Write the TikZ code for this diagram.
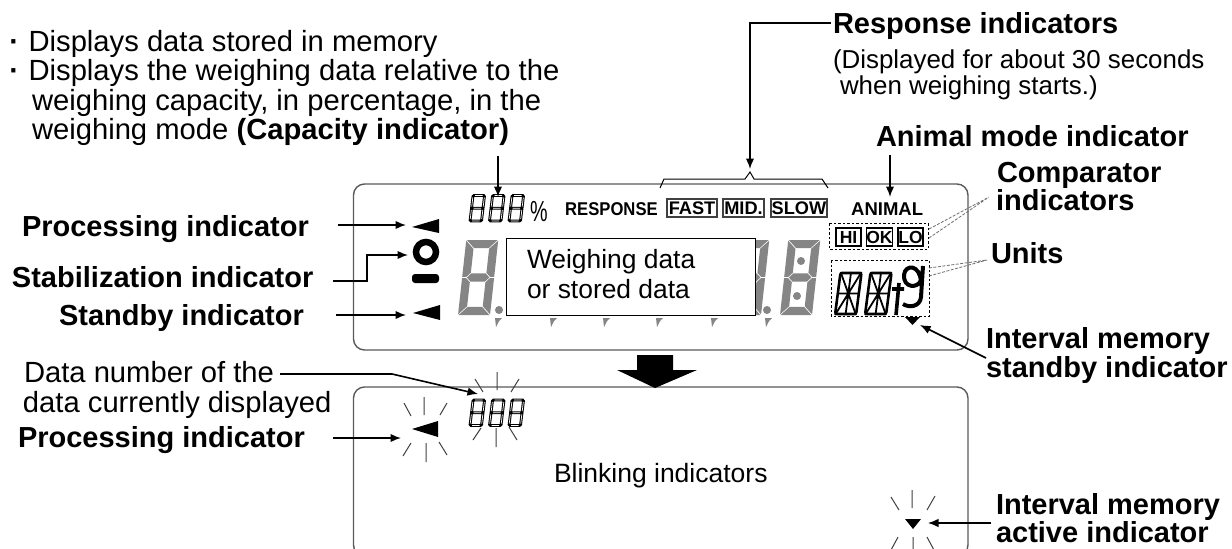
\documentclass[tikz,border=0pt]{standalone}
\usepackage{fontspec}
\setmainfont{Liberation Sans}
\usetikzlibrary{arrows.meta}
\definecolor{lcdgrey}{HTML}{858585}
\definecolor{panelline}{HTML}{5A5A5A}
\definecolor{leaddash}{HTML}{707070}
\newcommand{\lcdseg}[4]{%
 % w h t style : origin at bottom-left, up is positive
 \pgfmathsetmacro{\wW}{#1}\pgfmathsetmacro{\hH}{#2}\pgfmathsetmacro{\tT}{#3}%
 \pgfmathsetmacro{\mM}{\hH/2}\pgfmathsetmacro{\gG}{\tT*0.08}%
 \path[#4] (\gG,\hH) -- (\wW-\gG,\hH) -- (\wW-\tT-\gG,\hH-\tT) -- (\tT+\gG,\hH-\tT) -- cycle;
 \path[#4] (\gG,0) -- (\wW-\gG,0) -- (\wW-\tT-\gG,\tT) -- (\tT+\gG,\tT) -- cycle;
 \path[#4] (\tT/2+\gG,\mM) -- (\tT+\gG,\mM+\tT/2) -- (\wW-\tT-\gG,\mM+\tT/2) -- (\wW-\tT/2-\gG,\mM) -- (\wW-\tT-\gG,\mM-\tT/2) -- (\tT+\gG,\mM-\tT/2) -- cycle;
 \path[#4] (0,\hH-\gG) -- (\tT,\hH-\tT-\gG) -- (\tT,\mM+\tT/2+\gG) -- (\tT/2,\mM+\gG) -- (0,\mM+\gG) -- cycle;
 \path[#4] (0,\gG) -- (\tT,\tT+\gG) -- (\tT,\mM-\tT/2-\gG) -- (\tT/2,\mM-\gG) -- (0,\mM-\gG) -- cycle;
 \path[#4] (\wW,\hH-\gG) -- (\wW-\tT,\hH-\tT-\gG) -- (\wW-\tT,\mM+\tT/2+\gG) -- (\wW-\tT/2,\mM+\gG) -- (\wW,\mM+\gG) -- cycle;
 \path[#4] (\wW,\gG) -- (\wW-\tT,\tT+\gG) -- (\wW-\tT,\mM-\tT/2-\gG) -- (\wW-\tT/2,\mM-\gG) -- (\wW,\mM-\gG) -- cycle;
}
\newcommand{\bigdigit}[2]{\begin{scope}[shift={(#1,#2)},y=1pt,xslant=.11]\lcdseg{32}{75}{8.2}{fill=lcdgrey}\end{scope}}
\newcommand{\smalldigit}[2]{\begin{scope}[shift={(#1,#2)},y=1pt,xslant=.12]
 \draw[line width=2.8pt,rounded corners=1pt] (0,0) rectangle (11.5,25.5) (0,12.75) -- (11.5,12.75);
 \draw[white,line width=.7pt] (0,2) -- (0,11) (0,14.5) -- (0,23.5) (11.5,2) -- (11.5,11) (11.5,14.5) -- (11.5,23.5) (2,0) -- (9.5,0) (2,12.75) -- (9.5,12.75) (2,25.5) -- (9.5,25.5);
\end{scope}}
\newcommand{\alphadigit}[1]{\begin{scope}[shift={(#1,315)},y=1pt,xslant=.13]
 \draw[line width=2.6pt,line join=round,rounded corners=1.5pt] (0,1) rectangle (21,42);
 \draw[line width=1.8pt] (10.5,0) -- (10.5,43) (0,21.5) -- (21,21.5) (0,0) -- (21,43) (0,43) -- (21,0);
\end{scope}}
\newcommand{\commatick}[1]{\fill[lcdgrey] (#1-2,318) -- (#1+5,318) -- (#1+2,321) -- (#1-1,327) -- cycle;}
\tikzset{
 txt/.style={anchor=base west,inner sep=0pt,outer sep=0pt,font=\fontsize{29.2}{30}\selectfont},
 btxt/.style={anchor=base west,inner sep=0pt,outer sep=0pt,font=\fontsize{29}{30}\selectfont\bfseries},
 panel/.style={draw=panelline,line width=1.4pt,rounded corners=11pt},
 lead/.style={line width=1.6pt,-{Latex[length=10.5pt,width=8.5pt]}},
 dashbox/.style={draw=black,line width=.9pt,dash pattern=on 2.5pt off 2pt},
 greylead/.style={draw=leaddash,line width=.8pt,dash pattern=on 3pt off 1.5pt},
 ray/.style={draw=black!75,line width=1pt},
 lcdbox/.style={draw=black!75,line width=1.1pt,inner sep=0pt,minimum height=18pt,font=\fontsize{18.2}{19}\selectfont\bfseries,fill=white},
 cmpbox/.style={draw=black,line width=1.3pt,inner sep=0pt,minimum height=18pt,minimum width=25pt,font=\fontsize{17.5}{18}\selectfont\bfseries},
 lcdtxt/.style={anchor=base west,inner sep=0pt,font=\fontsize{18.5}{19}\selectfont\bfseries},
}
\begin{document}
\begin{tikzpicture}[x=1pt,y=-1pt]
\useasboundingbox[fill=white] (0,0) rectangle (1232,549);
% panels
\draw[panel] (353.5,184) rectangle (968,350);
\draw[panel] (353.5,387) rectangle (968,556);
% large grey digits
\foreach \dx in {458,513,567,621,675,729,780}{\bigdigit{\dx}{315}}
\foreach \dx in {497,552,605,658,713,767}{\commatick{\dx}}
\foreach \cx/\cy in {499/310,767/310,801/261,797/296}{\fill[lcdgrey] (\cx,\cy) circle (4);}
% data box
\node[draw=black,line width=1pt,fill=white,minimum width=249pt,minimum height=77pt,inner sep=0pt] (databox) at (630.5,276.5) {};
\node[txt,font=\fontsize{26.4}{27}\selectfont] (dataA) at (527,268) {Weighing data};
\node[txt,font=\fontsize{26.4}{27}\selectfont] (dataB) at (527,298) {or stored data};
% capacity digits
\foreach \dx in {470,489.5,509}{\smalldigit{\dx}{221}}
\node[lcdtxt,font=\fontsize{29}{29}\selectfont] (pct) at (530,221) {\scalebox{.68}[1]{\%}};
\node[lcdtxt] (resp) at (565,215) {\scalebox{.9}[1]{RESPONSE}};
\node[lcdbox,minimum width=50pt] (fast) at (692,208) {FAST};
\node[lcdbox,minimum width=41pt] (mid) at (743.5,208) {MID.};
\node[lcdbox,minimum width=56pt] (slow) at (799,208) {SLOW};
\node[lcdtxt] (animal) at (851,215) {ANIMAL};
% left symbols
\fill (412,227) -- (439,219) -- (439,233) -- cycle;
\fill (413,313) -- (440,305) -- (440,320) -- cycle;
\draw[line width=6.5pt] (426,252) circle (10);
\fill[rounded corners=3pt] (412,274) rectangle (439,283);
% comparator
\draw[dashbox] (829,223) rectangle (928,249);
\node[cmpbox] (hi) at (848.5,237) {HI};
\node[cmpbox] (ok) at (879.5,237) {OK};
\node[cmpbox] (lo) at (910.5,237) {LO};
% units
\draw[dashbox] (831,260) rectangle (929,316);
\alphadigit{835}
\alphadigit{865}
\draw[line width=3.6pt] (899,283) -- (896,315) (892,289) -- (904,289);
\draw[line width=4pt,line join=round] (921,282) .. controls (920,264) and (905,264) .. (904,275) .. controls (903,288) and (918,289) .. (921,280) (923,266) -- (921,297) .. controls (920,307) and (909,308) .. (903,304);
\fill (905,317) -- (920,317) -- (912.5,325) -- cycle;
% big down arrow
\fill (637,355) -- (673,355) -- (673,370) -- (697,370) -- (655,388) -- (617,370) -- (637,370) -- cycle;
% bottom panel
\foreach \dx in {470,489.5,509}{\smalldigit{\dx}{425.5}}
\fill (412,429) -- (438,421) -- (438,437) -- cycle;
\draw[ray] (497,372) -- (497,390) (475,379) -- (483,392) (519,379) -- (511,392)
 (481,428) -- (473,440) (496,428) -- (496,447) (509,427) -- (517,440);
\draw[ray] (424,397) -- (424,415) (404,403) -- (411,416) (447,403) -- (440,415)
 (411,443) -- (403,456) (426,443) -- (426,462) (439,442) -- (447,455);
\fill (905,519) -- (921,519) -- (913,529) -- cycle;
\draw[ray] (912,490) -- (912,508) (891,497) -- (899,510) (935,496) -- (927,510)
 (913,537) -- (913,552) (898,537) -- (890,552) (927,537) -- (935,552);
\node[txt,font=\fontsize{26.5}{27}\selectfont] (blink) at (554,482) {Blinking indicators};
% texts top left
\node[txt] (ta) at (8,51) {\makebox[20.6pt][l]{\hspace{1.5pt}\textbf{·}}Displays data stored in memory};
\node[txt] (tb) at (8,80) {\makebox[20.6pt][l]{\hspace{1.5pt}\textbf{·}}Displays the weighing data relative to the};
\node[txt] (tc) at (32,110.5) {weighing capacity, in percentage, in the};
\node[txt] (td) at (32,139) {weighing mode \textbf{(Capacity indicator)}};
% right-hand texts
\node[btxt] (rA) at (833,33) {Response indicators};
\node[txt,font=\fontsize{25.9}{26}\selectfont] (rB) at (833,68) {(Displayed for about 30 seconds};
\node[txt,font=\fontsize{25.9}{26}\selectfont] (rC) at (840,94) {when weighing starts.)};
\node[btxt] (anim) at (876,146) {Animal mode indicator};
\node[btxt] (cA) at (997,182) {Comparator};
\node[btxt] (cB) at (996,210) {indicators};
\node[btxt] (un) at (991,263) {Units};
\node[btxt] (iA) at (986,348) {Interval memory};
\node[btxt] (iB) at (986,377) {standby indicator};
\node[btxt] (jA) at (996,514) {Interval memory};
\node[btxt] (jB) at (996,542) {active indicator};
% left-hand texts
\node[btxt] (pA) at (22,236) {Processing indicator};
\node[btxt] (sA) at (12,287) {Stabilization indicator};
\node[btxt] (sB) at (59,325) {Standby indicator};
\node[txt] (nA) at (24,382) {Data number of the};
\node[txt] (nB) at (23,412) {data currently displayed};
\node[btxt] (pB) at (18,447) {Processing indicator};
% connector ends
\coordinate (capS) at (498,156);   \coordinate (capE) at (498,197);
\coordinate (respS) at (831,23);   \coordinate (respE) at (750,169);
\coordinate (animS) at (890,155);  \coordinate (animE) at (890,197);
\coordinate (pAS) at (338,225);    \coordinate (pAE) at (406,225);
\coordinate (sAS) at (333,281);    \coordinate (sAE) at (408,255);
\coordinate (sBS) at (336,315);    \coordinate (sBE) at (406,315);
\coordinate (nS) at (280,374);     \coordinate (nK) at (392,374);  \coordinate (nE) at (478,394);
\coordinate (pBS) at (333,438);    \coordinate (pBE) at (401,438);
\coordinate (iS) at (986,358);     \coordinate (iE) at (920,325);
\coordinate (jS) at (991,523);     \coordinate (jE) at (928,523);
\coordinate (brL) at (660,188);    \coordinate (brR) at (828,188);
\draw[lead] (capS) -- (capE);
\draw[lead] (respS) -| (respE);
\draw[lead] (animS) -- (animE);
\draw[lead] (pAS) -- (pAE);
\draw[lead] (sAS) -- (367,281) -- (367,255) -- (sAE);
\draw[lead] (sBS) -- (sBE);
\draw[lead] (nS) -- (nK) -- (nE);
\draw[lead] (pBS) -- (pBE);
\draw[lead] (iS) -- (iE);
\draw[lead,line width=1.3pt] (jS) -- (jE);
\draw[line width=1pt] (brL) -- (664,179) -- (745,179) -- (750,172) -- (754,179) -- (822,179) -- (brR);
% dashed grey leads
\coordinate (cT) at (989,197); \coordinate (uT) at (987,260);
\draw[greylead] (929,229) -- (cT) (929,238) -- (cT);
\draw[greylead] (929,268) -- (uT) (929,276) -- (uT);
\end{tikzpicture}
\end{document}
